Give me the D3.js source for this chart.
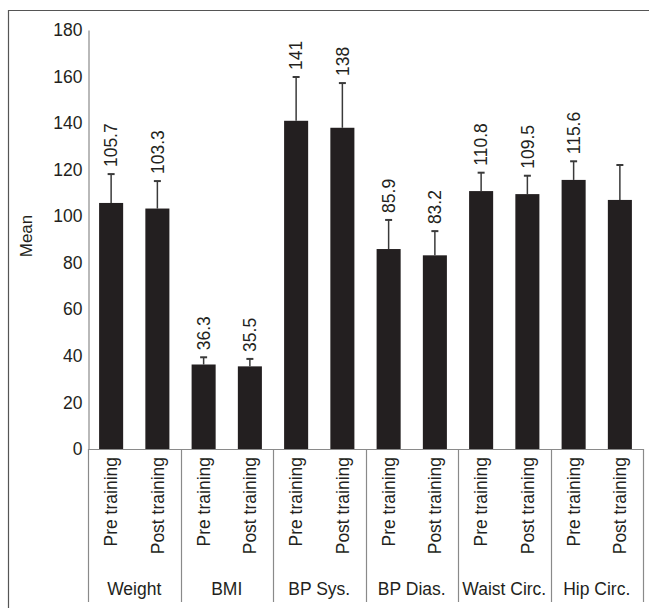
<!DOCTYPE html>
<meta charset="utf-8">
<script src="https://d3js.org/d3.v7.min.js"></script>
<style>
  body { margin: 0; background: #fff; }
  text { font-family: "Liberation Sans", Arial, sans-serif; fill: #231f20; }
</style>
<div id="chart"></div>
<script>
// data
var groups = ["Weight", "BMI", "BP Sys.", "BP Dias.", "Waist Circ.", "Hip Circ."];
var phases = ["Pre training", "Post training"];
var means = [105.7, 103.3, 36.3, 35.5, 141, 138, 85.9, 83.2, 110.8, 109.5, 115.6, 107];
var sds = [12.4, 11.8, 3.1, 3.2, 18.8, 19.2, 12.5, 10.4, 7.9, 7.9, 8.0, 15.0];
var valueLabels = ["105.7", "103.3", "36.3", "35.5", "141", "138", "85.9", "83.2", "110.8", "109.5", "115.6", ""];
var yTicks = [0, 20, 40, 60, 80, 100, 120, 140, 160, 180];

var W = 649, H = 608;
var fs = 17.5;

var rows = [];
groups.forEach(function (g, gi) {
  phases.forEach(function (p, pi) {
    var i = gi * 2 + pi;
    rows.push({ group: g, phase: p, mean: means[i], sd: sds[i], label: valueLabels[i] });
  });
});

var svg = d3.select("#chart").append("svg")
  .attr("width", W).attr("height", H);

// frame
svg.append("path")
  .attr("d", "M8.5," + H + "V10.5H" + W)
  .attr("fill", "none").attr("stroke", "#555").attr("stroke-width", 1.2);

var y = d3.scaleLinear().domain([0, 180]).range([449, 30]);
var x0 = d3.scaleBand().domain(groups).range([88, 643]);
var x1 = d3.scaleBand().domain(phases).range([0, x0.bandwidth()])
  .paddingInner(0.48).paddingOuter(0.24);

// y axis
var yAxis = svg.append("g")
  .attr("transform", "translate(88.5,0)")
  .call(d3.axisLeft(y).tickValues(yTicks).tickSize(0).tickSizeOuter(0).tickPadding(6));
yAxis.select(".domain").attr("stroke", "#8a8a8a").attr("stroke-width", 1.2);
yAxis.selectAll("text")
  .attr("font-size", fs)
  .attr("font-family", "Liberation Sans, Arial, sans-serif")
  .attr("fill", "#231f20");

svg.append("text")
  .attr("transform", "translate(26,236) rotate(-90)")
  .attr("text-anchor", "middle")
  .attr("dy", "0.35em")
  .attr("font-size", 17)
  .text("Mean");

// category axis
svg.append("line")
  .attr("x1", 88).attr("x2", 643).attr("y1", 449.5).attr("y2", 449.5)
  .attr("stroke", "#8a8a8a").attr("stroke-width", 1.2);
var seps = groups.map(function (g) { return x0(g); }).concat([643]);
svg.selectAll(".sep").data(seps).enter().append("line")
  .attr("class", "sep")
  .attr("x1", function (d) { return Math.round(d) + 0.5; })
  .attr("x2", function (d) { return Math.round(d) + 0.5; })
  .attr("y1", 449).attr("y2", 602)
  .attr("stroke", "#8a8a8a").attr("stroke-width", 1.2);

svg.selectAll(".glabel").data(groups).enter().append("text")
  .attr("class", "glabel")
  .attr("x", function (g) { return x0(g) + x0.bandwidth() / 2; })
  .attr("y", 595)
  .attr("text-anchor", "middle")
  .attr("font-size", fs)
  .text(function (g) { return g; });

function cx(d) { return x0(d.group) + x1(d.phase) + x1.bandwidth() / 2; }

svg.selectAll(".plabel").data(rows).enter().append("text")
  .attr("class", "plabel")
  .attr("transform", function (d) { return "translate(" + cx(d) + ",457) rotate(-90)"; })
  .attr("text-anchor", "end")
  .attr("dy", "0.35em")
  .attr("font-size", fs)
  .text(function (d) { return d.phase; });

// error bars (upper only)
var err = svg.selectAll(".err").data(rows).enter().append("g").attr("class", "err");
err.append("line")
  .attr("x1", cx).attr("x2", cx)
  .attr("y1", function (d) { return y(d.mean); })
  .attr("y2", function (d) { return y(d.mean + d.sd); })
  .attr("stroke", "#3a3a3a").attr("stroke-width", 1.5);
err.append("line")
  .attr("x1", function (d) { return cx(d) - 3.5; })
  .attr("x2", function (d) { return cx(d) + 3.5; })
  .attr("y1", function (d) { return y(d.mean + d.sd); })
  .attr("y2", function (d) { return y(d.mean + d.sd); })
  .attr("stroke", "#3a3a3a").attr("stroke-width", 2);

// bars
svg.selectAll(".bar").data(rows).enter().append("rect")
  .attr("class", "bar")
  .attr("x", function (d) { return x0(d.group) + x1(d.phase); })
  .attr("width", x1.bandwidth())
  .attr("y", function (d) { return y(d.mean); })
  .attr("height", function (d) { return y(0) - y(d.mean); })
  .attr("fill", "#231f20");

// value labels
svg.selectAll(".vlabel").data(rows).enter().append("text")
  .attr("class", "vlabel")
  .attr("transform", function (d) { return "translate(" + cx(d) + "," + (y(d.mean + d.sd) - 7) + ") rotate(-90)"; })
  .attr("dy", "0.35em")
  .attr("font-size", fs)
  .text(function (d) { return d.label; });
</script>
